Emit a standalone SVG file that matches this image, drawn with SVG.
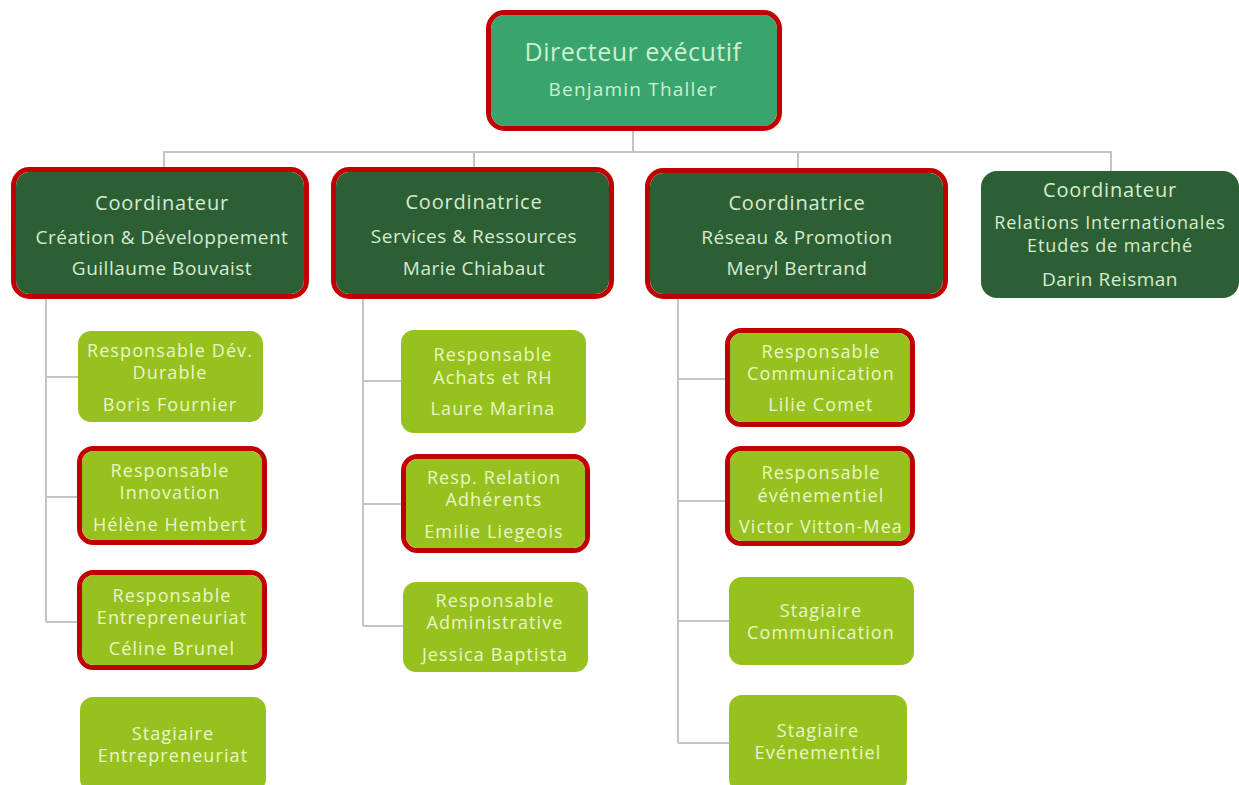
<svg xmlns="http://www.w3.org/2000/svg" width="1239" height="785" viewBox="0 0 1239 785">
<style>
text{font-family:"Open Sans","Liberation Sans",sans-serif;text-anchor:middle}
.top{fill:#3aa46f}
.dk{fill:#2d5f35}
.lt{fill:#97c11f}
.hl{fill:none;stroke:#c00000;stroke-width:5}
.tt{fill:#c9f2cf}
.td{fill:#d6ecd0}
.tl{fill:#e9f7c6;font-size:18px;letter-spacing:1.1px}
.h1{font-size:25px;letter-spacing:0.5px}
.h2{font-size:19px;letter-spacing:1.2px}
.c1{font-size:20px;letter-spacing:0.8px}
.c2{font-size:19px;letter-spacing:0.5px}
.c3{font-size:18px;letter-spacing:0.9px}
.conn{fill:none;stroke:#c4c4c4;stroke-width:2}
</style>
<rect width="1239" height="785" fill="#ffffff"/>
<g id="connectors" class="conn">
<path d="M633 128V152M164 170V152H1111V171M474 152V170M798 152V170"/>
<path d="M46 297V622M46 377H79M46 497H79M46 622H79"/>
<path d="M363 297V626M363 381H402M363 504H404M363 626H404"/>
<path d="M678 297V743M678 379H727M678 501H727M678 621H730M678 743H730"/>
</g>
<g id="n-directeur">
<rect class="top" x="491" y="15" width="286" height="111" rx="14"/>
<rect class="hl" x="488.5" y="12.5" width="291" height="116" rx="16"/>
<text class="tt h1" x="633" y="61">Directeur exécutif</text>
<text class="tt h2" x="633" y="96">Benjamin Thaller</text>
</g>
<g id="n-creation">
<rect class="dk" x="16" y="172" width="288" height="122" rx="14"/>
<rect class="hl" x="13.5" y="169.5" width="293" height="127" rx="16"/>
<text class="td c1" x="162" y="210">Coordinateur</text>
<text class="td c2" x="162" y="244">Création &amp; Développement</text>
<text class="td c2" x="162" y="275">Guillaume Bouvaist</text>
</g>
<g id="n-services">
<rect class="dk" x="336" y="172" width="273" height="122" rx="14"/>
<rect class="hl" x="333.5" y="169.5" width="278" height="127" rx="16"/>
<text class="td c1" x="474" y="209">Coordinatrice</text>
<text class="td c2" x="474" y="243">Services &amp; Ressources</text>
<text class="td c2" x="474" y="275">Marie Chiabaut</text>
</g>
<g id="n-reseau">
<rect class="dk" x="650" y="173" width="293" height="121" rx="14"/>
<rect class="hl" x="647.5" y="170.5" width="298" height="126" rx="16"/>
<text class="td c1" x="797" y="210">Coordinatrice</text>
<text class="td c2" x="797" y="244">Réseau &amp; Promotion</text>
<text class="td c2" x="797" y="275">Meryl Bertrand</text>
</g>
<g id="n-relations">
<rect class="dk" x="981" y="171" width="258" height="127" rx="16"/>
<text class="td c1" x="1110" y="197">Coordinateur</text>
<text class="td c3" x="1110" y="229">Relations Internationales</text>
<text class="td c3" x="1110" y="252">Etudes de marché</text>
<text class="td c2" x="1110" y="286">Darin Reisman</text>
</g>
<g id="n-durable">
<rect class="lt" x="78" y="331" width="185" height="91" rx="13"/>
<text class="tl" x="170" y="357">Responsable Dév.</text>
<text class="tl" x="170" y="379">Durable</text>
<text class="tl" x="170" y="411">Boris Fournier</text>
</g>
<g id="n-innovation">
<rect class="lt" x="82" y="451" width="180" height="89" rx="12"/>
<rect class="hl" x="79.5" y="448.5" width="185" height="94" rx="14"/>
<text class="tl" x="170" y="477">Responsable</text>
<text class="tl" x="170" y="499">Innovation</text>
<text class="tl" x="170" y="531">Hélène Hembert</text>
</g>
<g id="n-entrepreneuriat">
<rect class="lt" x="82" y="575" width="180" height="90" rx="12"/>
<rect class="hl" x="79.5" y="572.5" width="185" height="95" rx="14"/>
<text class="tl" x="172" y="602">Responsable</text>
<text class="tl" x="172" y="624">Entrepreneuriat</text>
<text class="tl" x="172" y="655">Céline Brunel</text>
</g>
<g id="n-stagiaire-entr">
<rect class="lt" x="80" y="697" width="186" height="95" rx="13"/>
<text class="tl" x="173" y="740">Stagiaire</text>
<text class="tl" x="173" y="762">Entrepreneuriat</text>
</g>
<g id="n-achats">
<rect class="lt" x="401" y="330" width="185" height="103" rx="13"/>
<text class="tl" x="493" y="361">Responsable</text>
<text class="tl" x="493" y="384">Achats et RH</text>
<text class="tl" x="493" y="415">Laure Marina</text>
</g>
<g id="n-adherents">
<rect class="lt" x="406" y="459" width="179" height="89" rx="12"/>
<rect class="hl" x="403.5" y="456.5" width="184" height="94" rx="14"/>
<text class="tl" x="494" y="484">Resp. Relation</text>
<text class="tl" x="494" y="506">Adhérents</text>
<text class="tl" x="494" y="538">Emilie Liegeois</text>
</g>
<g id="n-administrative">
<rect class="lt" x="403" y="582" width="185" height="90" rx="13"/>
<text class="tl" x="495" y="607">Responsable</text>
<text class="tl" x="495" y="629">Administrative</text>
<text class="tl" x="495" y="661">Jessica Baptista</text>
</g>
<g id="n-communication">
<rect class="lt" x="730" y="333" width="180" height="89" rx="12"/>
<rect class="hl" x="727.5" y="330.5" width="185" height="94" rx="14"/>
<text class="tl" x="821" y="358">Responsable</text>
<text class="tl" x="821" y="380">Communication</text>
<text class="tl" x="821" y="411">Lilie Comet</text>
</g>
<g id="n-evenementiel">
<rect class="lt" x="730" y="451" width="180" height="90" rx="12"/>
<rect class="hl" x="727.5" y="448.5" width="185" height="95" rx="14"/>
<text class="tl" x="821" y="479">Responsable</text>
<text class="tl" x="821" y="502">événementiel</text>
<text class="tl" x="821" y="533">Victor Vitton-Mea</text>
</g>
<g id="n-stagiaire-comm">
<rect class="lt" x="729" y="577" width="185" height="88" rx="13"/>
<text class="tl" x="821" y="617">Stagiaire</text>
<text class="tl" x="821" y="639">Communication</text>
</g>
<g id="n-stagiaire-even">
<rect class="lt" x="729" y="695" width="178" height="97" rx="13"/>
<text class="tl" x="818" y="737">Stagiaire</text>
<text class="tl" x="818" y="759">Evénementiel</text>
</g>
</svg>
